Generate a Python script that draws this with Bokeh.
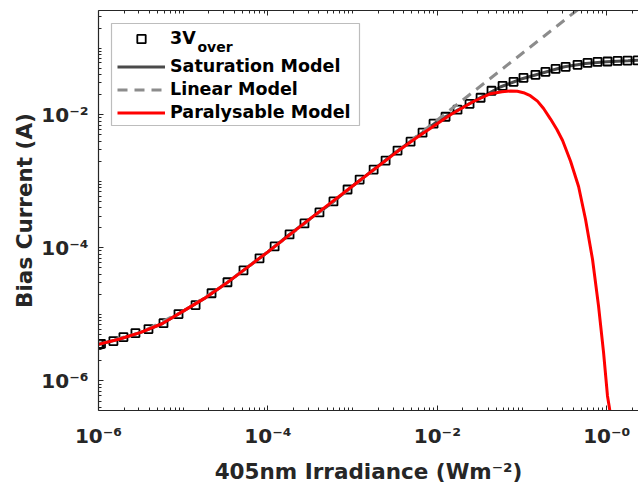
from bokeh.plotting import figure
from bokeh.models import (LogAxis, FixedTicker, Legend, LegendItem, Label,
                          BoxAnnotation, Range1d)
from bokeh.embed import file_html
from bokeh.resources import INLINE

# ---------------- data ----------------
# measured points (3V overbias)
meas_x = [1.00e-6, 1.03e-6, 1.07e-6, 1.50e-6, 1.97e-6, 2.73e-6, 3.89e-6, 5.85e-6,
          8.80e-6, 1.40e-5, 2.16e-5, 3.33e-5, 5.15e-5, 7.96e-5, 1.20e-4, 1.80e-4,
          2.70e-4, 4.06e-4, 5.94e-4, 8.71e-4, 1.21e-3, 1.77e-3, 2.45e-3, 3.39e-3,
          4.83e-3, 6.69e-3, 9.02e-3, 1.25e-2, 1.73e-2, 2.40e-2, 3.24e-2, 4.36e-2,
          5.89e-2, 7.94e-2, 1.04e-1, 1.44e-1, 1.89e-1, 2.49e-1, 3.27e-1, 4.52e-1,
          5.93e-1, 7.78e-1, 1.02, 1.34, 1.76, 2.31]
meas_y = [3.55e-6, 3.58e-6, 3.62e-6, 3.97e-6, 4.56e-6, 5.24e-6, 6.01e-6, 7.39e-6,
          1.01e-5, 1.38e-5, 2.08e-5, 3.04e-5, 4.60e-5, 6.97e-5, 1.05e-4, 1.59e-4,
          2.33e-4, 3.40e-4, 4.98e-4, 7.52e-4, 1.06e-3, 1.50e-3, 2.05e-3, 2.89e-3,
          3.94e-3, 5.37e-3, 7.33e-3, 9.33e-3, 1.19e-2, 1.46e-2, 1.80e-2, 2.29e-2,
          2.72e-2, 3.12e-2, 3.58e-2, 3.97e-2, 4.41e-2, 4.89e-2, 5.24e-2, 5.61e-2,
          6.01e-2, 6.22e-2, 6.30e-2, 6.44e-2, 6.50e-2, 6.55e-2]

# saturation model
sat_x = [1e-6, 1.78e-6, 3.16e-6, 5.62e-6, 1e-5, 1.78e-5, 3.16e-5, 5.62e-5, 1e-4,
         1.78e-4, 3.16e-4, 5.62e-4, 1e-3, 1.78e-3, 3.16e-3, 5.62e-3, 1e-2, 1.78e-2,
         3.16e-2, 5.62e-2, 0.1, 0.178, 0.316, 0.562, 1.0, 1.78, 2.51]
sat_y = [3.55e-6, 4.27e-6, 5.37e-6, 7.24e-6, 1.12e-5, 1.74e-5, 2.88e-5, 5.01e-5, 8.71e-5,
         1.58e-4, 2.75e-4, 4.68e-4, 8.51e-4, 1.51e-3, 2.69e-3, 4.57e-3, 7.94e-3, 1.20e-2,
         1.78e-2, 2.63e-2, 3.47e-2, 4.27e-2, 5.25e-2, 5.89e-2, 6.24e-2, 6.46e-2, 6.61e-2]

# linear model
lin_x = [1e-6, 3.16e-6, 1e-5, 3.16e-5, 1e-4, 1e-3, 1e-2, 0.1, 1.0]
lin_y = [3.55e-6, 5.37e-6, 1.12e-5, 2.88e-5, 8.71e-5, 8.32e-4, 8.32e-3, 8.32e-2, 0.832]

# paralysable model
par_x = [1e-6, 1.78e-6, 3.16e-6, 5.62e-6, 1e-5, 1.78e-5, 3.16e-5, 5.62e-5, 1e-4,
         3.16e-4, 1e-3, 3.16e-3, 5.62e-3, 1.09e-2, 1.43e-2, 2.67e-2, 4.25e-2, 5.8e-2,
         7.31e-2, 8.8e-2, 0.104, 0.125, 0.152, 0.1795, 0.217, 0.258, 0.301, 0.374, 0.465,
         0.562, 0.679, 0.800, 0.916, 1.02, 1.08, 1.15]
par_y = [3.55e-6, 4.27e-6, 5.37e-6, 7.24e-6, 1.12e-5, 1.74e-5, 2.88e-5, 5.01e-5, 8.71e-5,
         2.75e-4, 8.51e-4, 2.63e-3, 4.47e-3, 7.94e-3, 1.0e-2, 1.58e-2, 2.07e-2, 2.22e-2,
         2.27e-2, 2.25e-2, 2.14e-2, 1.93e-2, 1.60e-2, 1.24e-2, 8.6e-3, 6.0e-3, 4.1e-3, 2.0e-3,
         8.34e-4, 2.67e-4, 6.73e-5, 1.33e-5, 2.72e-6, 5.96e-7, 3.81e-7, 2.24e-7]

x_major = [1e-6, 1e-4, 1e-2, 1.0]
x_labels = {1e-6: "10\u207b\u2076", 1e-4: "10\u207b\u2074", 1e-2: "10\u207b\u00b2", 1.0: "10\u207b\u2070"}
y_major = [1e-6, 1e-4, 1e-2]
y_labels = {1e-6: "10\u207b\u2076", 1e-4: "10\u207b\u2074", 1e-2: "10\u207b\u00b2"}

# ---------------- styling ----------------
FONT = "DejaVu Sans"
TXT = "#262626"

x_minor = [m * 10.0 ** k for k in range(-6, 1) for m in range(1, 10) if not (m == 1 and k % 2 == 0)]
y_minor = [m * 10.0 ** k for k in range(-7, 0) for m in range(1, 10) if not (m == 1 and k % 2 == 0)]

p = figure(width=638, height=486, x_axis_type="log", y_axis_type="log",
           x_range=Range1d(1e-6, 2.37), y_range=Range1d(3.6e-7, 0.368),
           output_backend="svg", toolbar_location=None,
           min_border_left=98, min_border_right=0, min_border_top=10, min_border_bottom=75)
p.outline_line_color = None
p.xgrid.visible = False
p.ygrid.visible = False
p.background_fill_color = "white"
p.border_fill_color = "white"


def style_axis(ax):
    ax.axis_line_color = TXT
    ax.axis_line_width = 1.2
    ax.major_tick_in = 5
    ax.major_tick_out = 0
    ax.minor_tick_in = 3
    ax.minor_tick_out = 0
    ax.major_tick_line_color = TXT
    ax.minor_tick_line_color = TXT
    ax.major_label_text_font = FONT
    ax.major_label_text_font_style = "bold"
    ax.major_label_text_font_size = "20px"
    ax.major_label_text_color = TXT
    ax.axis_label_text_font = FONT
    ax.axis_label_text_font_style = "bold"
    ax.axis_label_text_font_size = "21.5px"
    ax.axis_label_text_color = TXT


xa = p.xaxis[0]
style_axis(xa)
xa.ticker = FixedTicker(ticks=x_major, minor_ticks=x_minor)
xa.major_label_overrides = x_labels
xa.major_label_standoff = 13
xa.axis_label = "405nm Irradiance (Wm\u207b\u00b2)"
xa.axis_label_standoff = 8

ya = p.yaxis[0]
style_axis(ya)
ya.ticker = FixedTicker(ticks=y_major, minor_ticks=y_minor)
ya.major_label_overrides = y_labels
ya.major_label_standoff = 10
ya.axis_label = "Bias Current (A)"
ya.axis_label_standoff = 1

top = LogAxis(ticker=FixedTicker(ticks=x_major, minor_ticks=x_minor))
style_axis(top)
top.major_label_text_font_size = "1px"
top.major_label_text_alpha = 0
top.major_label_standoff = 0
p.add_layout(top, "above")

# ---------------- glyphs ----------------
sat = p.line(sat_x, sat_y, line_color="#4a4a4a", line_width=3)
mk = p.scatter(meas_x, meas_y, marker="square", size=8, line_color="black",
               line_width=1.8, fill_color=None)
lin = p.line(lin_x, lin_y, line_color="#8c8c8c", line_width=3, line_dash="10 7")
par = p.line(par_x, par_y, line_color="#ff0000", line_width=3)

# ---------------- legend ----------------
box = BoxAnnotation(left=13, right=261, bottom=285, top=387,
                    left_units="screen", right_units="screen",
                    top_units="screen", bottom_units="screen",
                    fill_color="white", fill_alpha=1.0, line_color=TXT, line_width=1.2)
p.add_layout(box)


def make_legend(items, loc):
    return Legend(items=items, location=loc, padding=0, margin=0, spacing=2,
                  label_height=21, glyph_height=21, glyph_width=48, label_standoff=5,
                  border_line_color=None, background_fill_alpha=0,
                  label_text_font=FONT, label_text_font_style="bold",
                  label_text_font_size="17.5px", label_text_color="black")


legA = make_legend([LegendItem(label="3V", renderers=[mk])], (19, 361.5))
legB = make_legend([LegendItem(label="Saturation Model", renderers=[sat]),
                    LegendItem(label="Linear Model", renderers=[lin]),
                    LegendItem(label="Paralysable Model", renderers=[par])], (19, 287.5))
p.add_layout(legA)
p.add_layout(legB)

sub = Label(x=99, y=364, x_units="screen", y_units="screen", text="over",
            text_font=FONT, text_font_style="bold", text_font_size="14px",
            text_color="black", text_baseline="middle", text_align="left")
p.add_layout(sub)

open("out.html", "w").write(file_html(p, INLINE))
